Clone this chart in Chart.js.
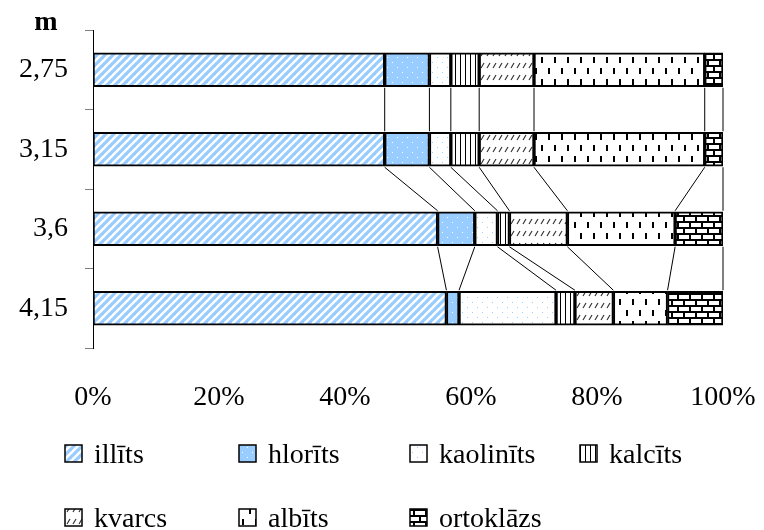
<!DOCTYPE html>
<html>
<head>
<meta charset="utf-8">
<script src="https://cdn.jsdelivr.net/npm/chart.js@4/dist/chart.umd.min.js"></script>
<style>
  html, body { margin: 0; padding: 0; background: #fff; }
  canvas { display: block; }
</style>
</head>
<body>
<canvas id="c" width="764" height="530"></canvas>
<script>
// ── data ──
const depths     = ['2,75', '3,15', '3,6', '4,15']
const illits     = [46.3, 46.3, 54.7, 56.1]
const hlorits    = [7.1, 7.1, 5.9, 2.0]
const kaolinits  = [3.4, 3.4, 3.6, 15.4]
const kalcits    = [4.5, 4.5, 1.9, 3.0]
const kvarcs     = [8.7, 8.7, 9.2, 6.1]
const albits     = [27.1, 27.1, 17.1, 8.6]
const ortoklazs  = [2.9, 2.9, 7.6, 8.8]
const pctTicks   = [0, 20, 40, 60, 80, 100]

const FONT = "'Liberation Serif', 'Times New Roman', serif"
const BLUE = '#99ccff'

// ── fill patterns ──
function tile(w, h, draw) {
  const c = document.createElement('canvas')
  c.width = w; c.height = h
  const g = c.getContext('2d')
  draw(g, w, h)
  return document.getElementById('c').getContext('2d').createPattern(c, 'repeat')
}

const patIllits = tile(8, 8, (g) => {
  g.fillStyle = '#fff'; g.fillRect(0, 0, 8, 8)
  g.strokeStyle = BLUE; g.lineWidth = 3.2
  ;[[-4, 4, 4, -4], [0, 8, 8, 0], [4, 12, 12, 4]].forEach(([a, b, c, d]) => {
    g.beginPath(); g.moveTo(a, b); g.lineTo(c, d); g.stroke()
  })
})
const patHlorits = tile(10, 10, (g) => {
  g.fillStyle = BLUE; g.fillRect(0, 0, 10, 10)
  g.fillStyle = '#fff'; g.fillRect(2, 2, 1, 1); g.fillRect(7, 7, 1, 1)
})
const patKaolinits = tile(10, 10, (g) => {
  g.fillStyle = '#fff'; g.fillRect(0, 0, 10, 10)
  g.fillStyle = BLUE; g.fillRect(2, 2, 1, 1); g.fillRect(7, 7, 1, 1)
})
const patKalcits = tile(5, 4, (g) => {
  g.fillStyle = '#fff'; g.fillRect(0, 0, 5, 4)
  g.fillStyle = '#000'; g.fillRect(0, 0, 1, 4)
})
const patKvarcs = tile(6, 12, (g) => {
  g.fillStyle = '#fff'; g.fillRect(0, 0, 6, 12)
  g.strokeStyle = '#333'; g.lineWidth = 1.2
  g.beginPath(); g.moveTo(1, 8); g.lineTo(4, 3); g.stroke()
})
const patAlbits = tile(13, 22, (g) => {
  g.fillStyle = '#fff'; g.fillRect(0, 0, 13, 22)
  g.fillStyle = '#000'
  g.fillRect(2, 2, 2, 6); g.fillRect(8, 13, 2, 6)
})
const patOrto = tile(12, 12, (g) => {
  g.fillStyle = '#000'; g.fillRect(0, 0, 12, 12)
  g.fillStyle = '#fff'
  g.fillRect(1, 1, 10, 4)
  g.fillRect(0, 7, 5, 4); g.fillRect(7, 7, 5, 4)
})

const series = [
  ['illīts', illits, patIllits],
  ['hlorīts', hlorits, patHlorits],
  ['kaolinīts', kaolinits, patKaolinits],
  ['kalcīts', kalcits, patKalcits],
  ['kvarcs', kvarcs, patKvarcs],
  ['albīts', albits, patAlbits],
  ['ortoklāzs', ortoklazs, patOrto],
]

// series lines between bars + the "m" title + legend grid
const extras = {
  id: 'extras',
  afterDatasetsDraw(chart) {
    const ctx = chart.ctx
    ctx.save()
    ctx.strokeStyle = '#000'; ctx.lineWidth = 1
    chart.data.datasets.forEach((ds, i) => {
      const els = chart.getDatasetMeta(i).data
      for (let k = 0; k < els.length - 1; k++) {
        const a = els[k], b = els[k + 1]
        ctx.beginPath()
        ctx.moveTo(a.x, a.y + a.height / 2 + 1)
        ctx.lineTo(b.x, b.y - b.height / 2 - 1)
        ctx.stroke()
      }
    })
    ctx.restore()
  },
  afterDraw(chart) {
    const ctx = chart.ctx
    ctx.save()
    ctx.fillStyle = '#000'
    ctx.font = 'bold 28px ' + FONT
    ctx.textAlign = 'center'; ctx.textBaseline = 'alphabetic'
    ctx.fillText('m', 46, 30)

    const cols = [65, 239, 410, 580]
    const rows = [463, 527]
    ctx.font = '28px ' + FONT
    ctx.textAlign = 'left'
    chart.data.datasets.forEach((ds, i) => {
      const x = cols[i < 4 ? i : i - 4]
      const y = rows[i < 4 ? 0 : 1]
      ctx.fillStyle = ds.backgroundColor
      ctx.fillRect(x, y - 18, 17, 17)
      ctx.strokeStyle = '#000'; ctx.lineWidth = 1.5
      ctx.strokeRect(x, y - 18, 17, 17)
      ctx.fillStyle = '#000'
      ctx.fillText(ds.label, x + 29, y)
    })
    ctx.restore()
  }
}

new Chart(document.getElementById('c'), {
  type: 'bar',
  data: {
    labels: depths,
    datasets: series.map(([label, data, pat]) => ({
      label, data,
      backgroundColor: pat,
      borderColor: '#000',
      borderWidth: 2,
      borderSkipped: false,
      barThickness: 34,
    }))
  },
  options: {
    indexAxis: 'y',
    responsive: false,
    animation: false,
    devicePixelRatio: 1,
    layout: { padding: { top: 30, right: 41, left: 0, bottom: 0 } },
    plugins: { legend: { display: false }, tooltip: { enabled: false } },
    scales: {
      x: {
        stacked: true, min: 0, max: 100,
        afterBuildTicks: s => { s.ticks = pctTicks.map(v => ({ value: v })) },
        afterFit: s => { s.height = 182; s.paddingLeft = 0; s.paddingRight = 0 },
        grid: { display: false, drawTicks: false },
        border: { display: false },
        ticks: { callback: v => v + '%', color: '#000', font: { family: FONT, size: 28 }, padding: 33, maxRotation: 0 },
      },
      y: {
        stacked: true,
        afterFit: s => { s.width = 93; s.paddingTop = 0; s.paddingBottom = 0 },
        grid: { drawOnChartArea: false, offset: true, tickLength: 8, color: '#808080' },
        border: { display: true, color: '#000', width: 1 },
        ticks: { color: '#000', font: { family: FONT, size: 28 }, padding: 17 },
      },
    },
  },
  plugins: [extras],
})
</script>
</body>
</html>
